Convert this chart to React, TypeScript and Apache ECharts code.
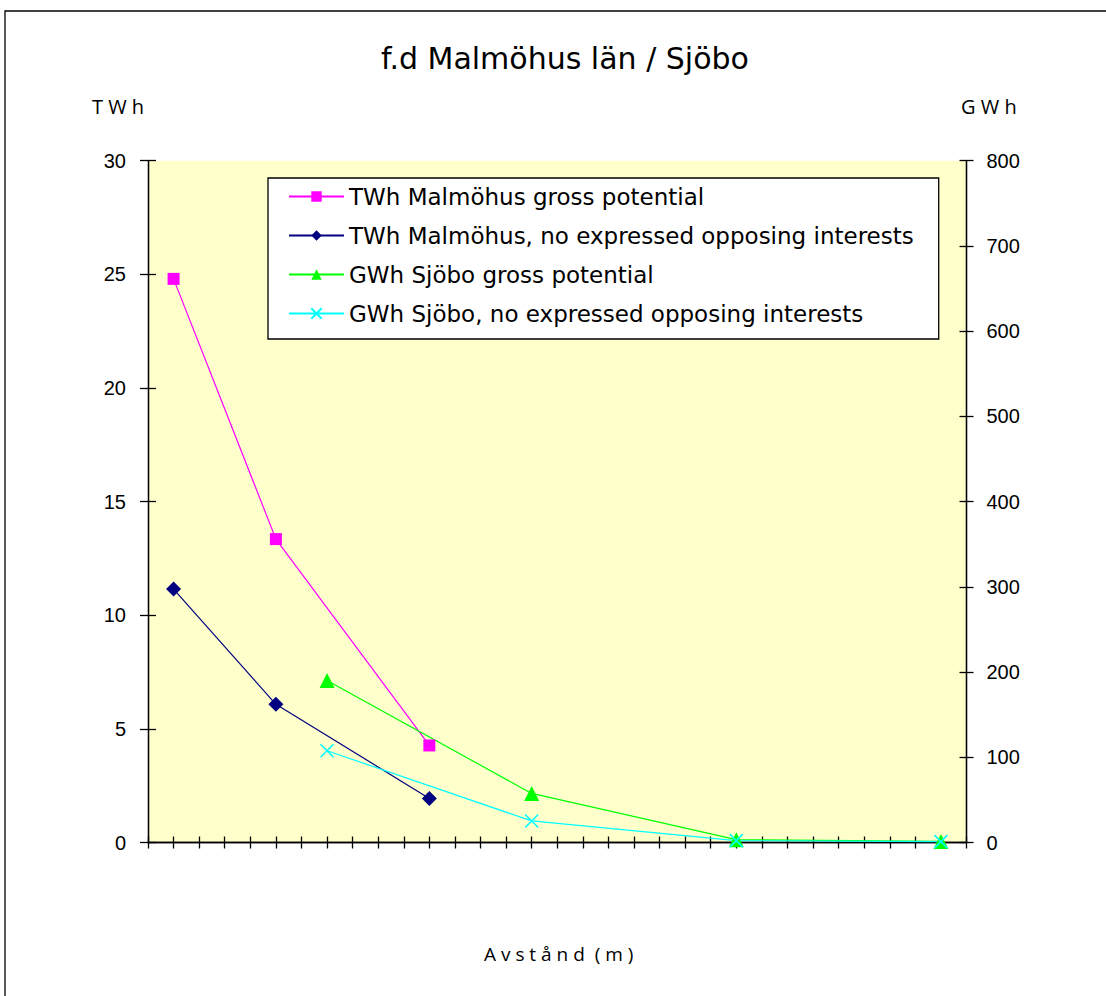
import React, { useEffect, useRef } from "react";
import * as echarts from "echarts";

// Distance categories (positions of bins on the x axis, 16 bins)
const binCount = 16;
const malmoX = [0, 2, 5];
const sjoboX = [3, 7, 11, 15];

const malmoGross = [24.8, 13.35, 4.27];
const malmoNoOpp = [11.15, 6.08, 1.94];
const sjoboGross = [190, 57.6, 3.3, 1.3];
const sjoboNoOpp = [107.7, 25.3, 2.2, 1.0];

const leftTicks = { min: 0, max: 30, interval: 5 };
const rightTicks = { min: 0, max: 800, interval: 100 };

const seriesNames = [
  "TWh Malmöhus gross potential",
  "TWh Malmöhus, no expressed opposing interests",
  "GWh Sjöbo gross potential",
  "GWh Sjöbo, no expressed opposing interests",
];

const pair = (xs: number[], ys: number[]) => xs.map((x, i) => [x, ys[i]]);

export default function App() {
  const ref = useRef<HTMLDivElement>(null);
  useEffect(() => {
    if (!ref.current) return;
    const chart = echarts.init(ref.current, null, { renderer: "svg" });
    const axisLine = { show: true, onZero: false, lineStyle: { color: "#000", width: 1.3 } };
    const labelFont = { fontFamily: "Liberation Sans", fontSize: 20, color: "#000" };
    chart.setOption({
      animation: false,
      backgroundColor: "#fff",
      title: {
        text: "f.d Malmöhus län / Sjöbo",
        left: 376,
        top: 38,
        textStyle: { fontFamily: "DejaVu Sans", fontWeight: "normal", fontSize: 30, color: "#000" },
      },
      graphic: [
        {
          type: "rect",
          shape: { x: 5, y: 11, width: 1120, height: 1010 },
          style: { fill: "none", stroke: "#000", lineWidth: 1.3 },
          silent: true,
          z: 100,
        },
        {
          type: "text",
          left: 92,
          top: 96,
          style: { text: "T W h", fontFamily: "Open Sans", fontSize: 20, fill: "#000" },
        },
        {
          type: "text",
          left: 961,
          top: 96,
          style: { text: "G W h", fontFamily: "Open Sans", fontSize: 20, fill: "#000" },
        },
        {
          type: "text",
          left: 484,
          top: 944,
          style: { text: "A v s t å n d  ( m )", fontFamily: "Open Sans", fontSize: 19, fill: "#000" },
        },
      ],
      legend: {
        orient: "vertical",
        left: 268,
        top: 178,
        backgroundColor: "#fff",
        borderColor: "#000",
        borderWidth: 1.3,
        padding: [7, 25, 14, 20],
        itemGap: 16,
        itemWidth: 55,
        itemHeight: 13,
        textStyle: { fontFamily: "DejaVu Sans", fontSize: 23, color: "#000" },
        data: seriesNames,
      },
      grid: {
        left: 148,
        right: 139.5,
        top: 160.7,
        bottom: 153.5,
        show: true,
        backgroundColor: "#ffffcc",
        borderWidth: 0,
      },
      xAxis: [
        {
          type: "value",
          min: -0.5,
          max: binCount - 0.5,
          interval: 0.5,
          axisLine,
          axisTick: { show: true, length: 6, lineStyle: { color: "#000", width: 1.3 } },
          axisLabel: { show: false },
          splitLine: { show: false },
        },
        {
          type: "value",
          position: "bottom",
          min: -0.5,
          max: binCount - 0.5,
          interval: 0.5,
          axisLine,
          axisTick: { show: true, inside: true, length: 6, lineStyle: { color: "#000", width: 1.3 } },
          axisLabel: { show: false },
          splitLine: { show: false },
        },
      ],
      yAxis: [
        {
          type: "value",
          position: "left",
          ...leftTicks,
          axisLine,
          axisTick: { show: true, length: 8, lineStyle: { color: "#000", width: 1.3 } },
          axisLabel: { ...labelFont, margin: 22 },
          splitLine: { show: false },
        },
        {
          type: "value",
          position: "left",
          ...leftTicks,
          axisLine,
          axisTick: { show: true, inside: true, length: 8, lineStyle: { color: "#000", width: 1.3 } },
          axisLabel: { show: false },
          splitLine: { show: false },
        },
        {
          type: "value",
          position: "right",
          ...rightTicks,
          axisLine,
          axisTick: { show: true, length: 7, lineStyle: { color: "#000", width: 1.3 } },
          axisLabel: { ...labelFont, margin: 20 },
          splitLine: { show: false },
        },
        {
          type: "value",
          position: "right",
          ...rightTicks,
          axisLine,
          axisTick: { show: true, inside: true, length: 7, lineStyle: { color: "#000", width: 1.3 } },
          axisLabel: { show: false },
          splitLine: { show: false },
        },
      ],
      series: [
        {
          name: seriesNames[0],
          type: "line",
          yAxisIndex: 0,
          data: pair(malmoX, malmoGross),
          symbol: "rect",
          symbolSize: 12,
          lineStyle: { color: "#ff00ff", width: 1.2 },
          itemStyle: { color: "#ff00ff" },
        },
        {
          name: seriesNames[1],
          type: "line",
          yAxisIndex: 0,
          data: pair(malmoX, malmoNoOpp),
          symbol: "diamond",
          symbolSize: 15,
          lineStyle: { color: "#000080", width: 1.2 },
          itemStyle: { color: "#000080" },
        },
        {
          name: seriesNames[2],
          type: "line",
          yAxisIndex: 2,
          data: pair(sjoboX, sjoboGross),
          symbol: "triangle",
          symbolSize: 15,
          lineStyle: { color: "#00ff00", width: 1.2 },
          itemStyle: { color: "#00ff00" },
        },
        {
          name: seriesNames[3],
          type: "line",
          yAxisIndex: 2,
          data: pair(sjoboX, sjoboNoOpp),
          symbol: "path://M0,0L10,10M10,0L0,10",
          symbolSize: 13,
          lineStyle: { color: "#00ffff", width: 1.2 },
          itemStyle: { color: "#00ffff", borderColor: "#00ffff", borderWidth: 1.5 },
        },
      ],
    });
    return () => chart.dispose();
  }, []);
  return (
    <div
      ref={ref}
      style={{ position: "fixed", left: 0, top: 0, width: 1106, height: 996 }}
    />
  );
}
